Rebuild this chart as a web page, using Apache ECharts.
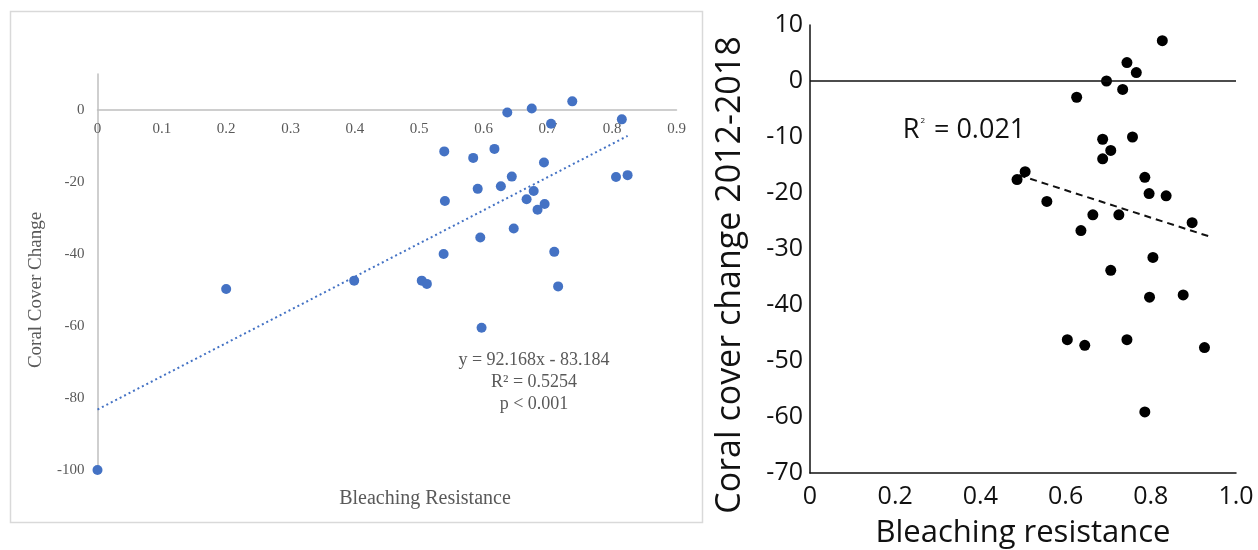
<!DOCTYPE html>
<html>
<head>
<meta charset="utf-8">
<script src="https://cdn.jsdelivr.net/npm/echarts@6/dist/echarts.min.js"></script>
<style>
  html, body { margin: 0; padding: 0; background: #fff; }
  #chart { width: 1258px; height: 550px; }
</style>
</head>
<body>
<div id="chart"></div>
<script>
// Left panel: bleaching resistance vs coral cover change (Excel style)
const leftX = [0, 0.2, 0.399, 0.504, 0.512, 0.538, 0.539, 0.540, 0.584, 0.591, 0.595, 0.597, 0.617, 0.627, 0.637,
    0.644, 0.647, 0.667, 0.675, 0.678, 0.684, 0.694, 0.695, 0.705, 0.710, 0.716, 0.738, 0.806, 0.815, 0.824];
const leftY = [-100, -49.7, -47.4, -47.4, -48.3, -40, -11.5, -25.3, -13.3, -21.9, -35.4, -60.5, -10.8, -21.2, -0.7,
    -18.5, -32.9, -24.8, 0.4, -22.5, -27.7, -14.6, -26.1, -3.8, -39.4, -49, 2.4, -18.6, -2.6, -18.1];
const leftTrend = [[0, -83.2], [0.824, -7.2]];
const leftXTicks = [0, 0.9, 0.1];
const leftYTicks = [-100, 10, 20];

// Right panel: 2012-2018 coral cover change
const rightX = [0.827, 0.744, 0.766, 0.696, 0.734, 0.626, 0.687, 0.757, 0.706, 0.687, 0.505, 0.486, 0.786, 0.796,
    0.836, 0.556, 0.664, 0.725, 0.897, 0.636, 0.805, 0.706, 0.797, 0.876, 0.604, 0.645, 0.744, 0.926, 0.786];
const rightY = [7.2, 3.3, 1.5, 0, -1.5, -2.9, -10.4, -10.0, -12.4, -13.9, -16.2, -17.6, -17.2, -20.1,
    -20.5, -21.5, -23.9, -23.9, -25.3, -26.7, -31.5, -33.8, -38.6, -38.2, -46.2, -47.2, -46.2, -47.6, -59.1];
const rightTrend = [[0.49, -16.8], [0.935, -27.7]];
const rightXTicks = [0, 1, 0.2];
const rightYTicks = [-70, 10, 10];

const pairs = (xs, ys) => xs.map((x, i) => [x, ys[i]]);

const serif = 'Liberation Serif';
const sans = 'Open Sans';
const grey = '#595959';

const chart = echarts.init(document.getElementById('chart'));
chart.setOption({
    animation: false,
    backgroundColor: '#fff',
    grid: [
        { left: 97.5, right: 581.5, top: 74, bottom: 80 },
        { left: 810, right: 22, top: 25, bottom: 77 }
    ],
    xAxis: [{
        gridIndex: 0,
        type: 'value',
        min: leftXTicks[0], max: leftXTicks[1], interval: leftXTicks[2],
        // Excel draws the horizontal axis through y = 0
        offset: -360,
        axisLine: { onZero: false, lineStyle: { color: '#bfbfbf', width: 1.5 } },
        axisTick: { show: false },
        splitLine: { show: false },
        axisLabel: { color: grey, fontFamily: serif, fontSize: 15, margin: 12 }
    }, {
        gridIndex: 1,
        type: 'value',
        min: rightXTicks[0], max: rightXTicks[1], interval: rightXTicks[2],
        axisLine: { onZero: false, lineStyle: { color: '#111', width: 1.5 } },
        axisTick: { show: false },
        splitLine: { show: false },
        axisLabel: {
            color: '#111', fontFamily: sans, fontSize: 25, margin: 11,
            formatter: v => v === 0 ? '0' : v.toFixed(1)
        }
    }],
    yAxis: [{
        gridIndex: 0,
        type: 'value',
        min: leftYTicks[0], max: leftYTicks[1], interval: leftYTicks[2],
        axisLine: { show: true, onZero: false, lineStyle: { color: '#bfbfbf', width: 1.5 } },
        axisTick: { show: false },
        splitLine: { show: false },
        axisLabel: {
            color: grey, fontFamily: serif, fontSize: 15, margin: 13,
            formatter: v => (v % 20 === 0 ? String(v) : '')
        }
    }, {
        gridIndex: 1,
        type: 'value',
        min: rightYTicks[0], max: rightYTicks[1], interval: rightYTicks[2],
        axisLine: { show: true, onZero: false, lineStyle: { color: '#111', width: 1.5 } },
        axisTick: { show: false },
        splitLine: { show: false },
        axisLabel: { color: '#111', fontFamily: sans, fontSize: 25, margin: 7 }
    }],
    series: [{
        type: 'line',
        xAxisIndex: 0, yAxisIndex: 0,
        data: leftTrend,
        symbol: 'none',
        lineStyle: { color: '#4472c4', width: 2, type: [2, 3] },
        z: 1
    }, {
        type: 'scatter',
        xAxisIndex: 0, yAxisIndex: 0,
        data: pairs(leftX, leftY),
        symbolSize: 10,
        itemStyle: { color: '#4472c4', opacity: 1 },
        z: 2
    }, {
        type: 'line',
        xAxisIndex: 1, yAxisIndex: 1,
        data: rightTrend,
        symbol: 'none',
        lineStyle: { color: '#111', width: 2, type: [7, 5] },
        z: 1
    }, {
        type: 'scatter',
        xAxisIndex: 1, yAxisIndex: 1,
        data: pairs(rightX, rightY),
        symbolSize: 11,
        itemStyle: { color: '#000', opacity: 1 },
        markLine: {
            silent: true,
            symbol: 'none',
            label: { show: false },
            lineStyle: { color: '#111', width: 1.5, type: 'solid' },
            data: [{ yAxis: 0 }]
        },
        z: 2
    }],
    graphic: [
        {
            type: 'rect', z: -1, silent: true,
            shape: { x: 10.5, y: 11.5, width: 692, height: 511 },
            style: { fill: 'none', stroke: '#d9d9d9', lineWidth: 1.5 }
        },
        {
            type: 'text', x: 36, y: 290, rotation: Math.PI / 2,
            style: { text: 'Coral Cover Change', fill: grey, font: '19px "Liberation Serif"', align: 'center', verticalAlign: 'middle' }
        },
        {
            type: 'text', x: 425, y: 499,
            style: { text: 'Bleaching Resistance', fill: grey, font: '20px "Liberation Serif"', align: 'center', verticalAlign: 'middle' }
        },
        {
            type: 'text', x: 534, y: 382,
            style: {
                text: 'y = 92.168x - 83.184\nR² = 0.5254\np < 0.001',
                fill: grey, font: '18px "Liberation Serif"', lineHeight: 22, align: 'center', verticalAlign: 'middle'
            }
        },
        {
            type: 'text', x: 730, y: 275, rotation: Math.PI / 2,
            style: { text: 'Coral cover change 2012-2018', fill: '#111', font: '34px "Open Sans"', align: 'center', verticalAlign: 'middle' }
        },
        {
            type: 'text', x: 1023, y: 533,
            style: { text: 'Bleaching resistance', fill: '#111', font: '31px "Open Sans"', align: 'center', verticalAlign: 'middle' }
        },
        {
            type: 'text', x: 964, y: 130,
            style: {
                text: '{r|R}{s|2}{r| = 0.021}',
                fill: '#111', align: 'center', verticalAlign: 'middle',
                rich: {
                    r: { fontFamily: sans, fontSize: 27, fill: '#111' },
                    s: { fontFamily: sans, fontSize: 8, fill: '#111', verticalAlign: 'top', padding: [0, 2, 0, 1] }
                }
            }
        }
    ]
});
</script>
</body>
</html>
